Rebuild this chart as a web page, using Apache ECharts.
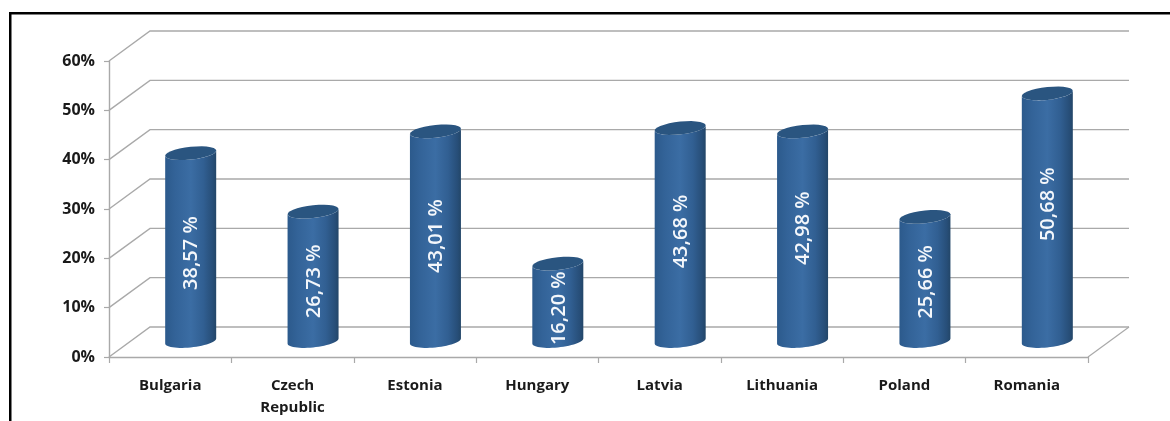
<!DOCTYPE html>
<html>
<head>
<meta charset="utf-8">
<style>html,body{margin:0;padding:0;background:#fff}#c{width:1170px;height:421px}</style>
<script src="https://cdn.jsdelivr.net/npm/echarts@6/dist/echarts.min.js"></script>
</head>
<body>
<div id="c"></div>
<script>
const categories = ['Bulgaria', 'Czech\nRepublic', 'Estonia', 'Hungary', 'Latvia', 'Lithuania', 'Poland', 'Romania'];
const shares = [38.57, 26.73, 43.01, 16.20, 43.68, 42.98, 25.66, 50.68];
const shareLabels = ['38,57 %', '26,73 %', '43,01 %', '16,20 %', '43,68 %', '42,98 %', '25,66 %', '50,68 %'];
const yTicks = [0, 10, 20, 30, 40, 50, 60];

const DEPTH_X = 41, DEPTH_Y = 30, HALF_W = 25.5, RY = 6.4, TILT = 2.6;
const GRID_COLOR = '#a9a9a9';
// the source chart's labels sit off-centre by differing amounts (pixels from the bar's middle)
const LABEL_NUDGE = [6, 5, 0, 6, -3, -8, 3, -13];

function ellipseArc(cx, cy, from, to) {
  const pts = [];
  const n = 28;
  for (let k = 0; k <= n; k++) {
    const t = from + (to - from) * k / n;
    pts.push([cx + HALF_W * Math.cos(t), cy + RY * Math.sin(t) - TILT * Math.cos(t)]);
  }
  return pts;
}

function renderWall(params, api) {
  const tick = api.value(1);
  const cs = params.coordSys;
  const y = api.coord([0, tick])[1];
  const x0 = cs.x, x1 = cs.x + cs.width;
  const children = [{
    type: 'polyline',
    shape: { points: [[x0, y], [x0 + DEPTH_X, y - DEPTH_Y], [x1 + DEPTH_X, y - DEPTH_Y]] },
    style: { stroke: GRID_COLOR, lineWidth: 1.4, fill: null }
  }];
  if (tick === 0) {
    children.push({
      type: 'line',
      shape: { x1: x1, y1: y, x2: x1 + DEPTH_X, y2: y - DEPTH_Y },
      style: { stroke: GRID_COLOR, lineWidth: 1.2 }
    });
  }
  return { type: 'group', children: children };
}

function renderCylinder(params, api) {
  const i = api.value(0), v = api.value(1);
  const top = api.coord([i, v]);
  const base = api.coord([i, 0]);
  const cx = top[0] + DEPTH_X / 2;
  const yTop = top[1] - DEPTH_Y / 2 + 1.5;
  const yBase = base[1] - DEPTH_Y / 2 - 1;
  const baseNear = ellipseArc(cx, yBase, Math.PI, 0);
  const topNear = ellipseArc(cx, yTop, 0, Math.PI);
  const cap = ellipseArc(cx, yTop, 0, 2 * Math.PI);
  return {
    type: 'group',
    children: [{
      type: 'polygon',
      shape: { points: baseNear.concat(topNear) },
      style: {
        fill: {
          type: 'linear', x: 0, y: 0, x2: 1, y2: 0,
          colorStops: [
            { offset: 0, color: '#2c5a8c' },
            { offset: 0.2, color: '#336398' },
            { offset: 0.5, color: '#3b6da4' },
            { offset: 0.75, color: '#315f92' },
            { offset: 0.93, color: '#274e78' },
            { offset: 1, color: '#234668' }
          ]
        }
      }
    }, {
      type: 'polygon',
      shape: { points: cap },
      style: { fill: '#2a5580' }
    }, {
      type: 'text',
      x: cx + 1,
      y: (yTop + yBase) / 2 + LABEL_NUDGE[i],
      rotation: Math.PI / 2,
      style: {
        text: shareLabels[i],
        fill: '#f4f7fb',
        font: '600 20px "Open Sans", sans-serif',
        align: 'center',
        verticalAlign: 'middle'
      }
    }]
  };
}

const chart = echarts.init(document.getElementById('c'), null, { renderer: 'canvas' });
chart.setOption({
  animation: false,
  backgroundColor: '#ffffff',
  grid: { left: 109, right: 82, top: 61, bottom: 64, containLabel: false },
  xAxis: {
    type: 'category',
    data: categories,
    boundaryGap: true,
    axisLine: { lineStyle: { color: GRID_COLOR, width: 1.4 } },
    axisTick: { show: true, length: 6, alignWithLabel: false, lineStyle: { color: GRID_COLOR, width: 1.2 } },
    axisLabel: {
      color: '#1a1a1a', fontFamily: '"Open Sans", sans-serif', fontWeight: 'bold',
      fontSize: 15, lineHeight: 22, margin: 18, interval: 0
    },
    splitLine: { show: false }
  },
  yAxis: {
    type: 'value',
    min: 0, max: 60, interval: 10,
    axisLine: { show: true, lineStyle: { color: GRID_COLOR, width: 1.4 } },
    axisTick: { show: true, length: 5, lineStyle: { color: GRID_COLOR, width: 1.2 } },
    axisLabel: {
      formatter: '{value}%', color: '#1a1a1a', fontFamily: '"Open Sans", sans-serif',
      fontWeight: 'bold', fontSize: 16, margin: 14, padding: [2, 0, 0, 0]
    },
    splitLine: { show: false }
  },
  graphic: [
    { type: 'rect', shape: { x: 9, y: 12, width: 1161, height: 2.5 }, style: { fill: '#000' }, z: 100 },
    { type: 'rect', shape: { x: 9, y: 12, width: 2.5, height: 409 }, style: { fill: '#000' }, z: 100 }
  ],
  series: [{
    name: 'wall', type: 'custom', clip: false, silent: true, z: 1,
    data: yTicks.map(function (t) { return [0, t]; }),
    renderItem: renderWall
  }, {
    name: 'share', type: 'custom', clip: false, silent: true, z: 3,
    data: shares.map(function (v, i) { return [i, v]; }),
    renderItem: renderCylinder
  }]
});
</script>
</body>
</html>
